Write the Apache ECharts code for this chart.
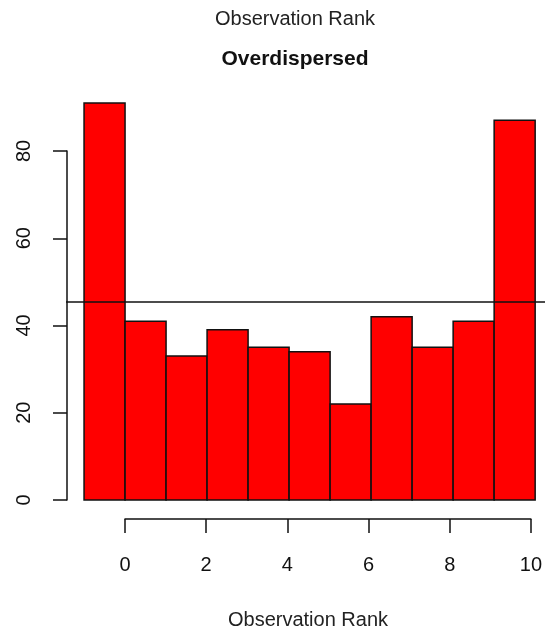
<!DOCTYPE html>
<html>
<head>
<meta charset="utf-8">
<script src="https://cdn.jsdelivr.net/npm/echarts@6/dist/echarts.min.js"></script>
<style>
  html, body { margin: 0; padding: 0; background: #fff; }
  #chart { width: 545px; height: 633px; }
</style>
</head>
<body>
<div id="chart"></div>
<script>
// Rank histogram: bin edges and counts per bin
const binEdges = [-1, 0, 1, 2, 3, 4, 5, 6, 7, 8, 9, 10];
const counts = [91, 41, 33, 39, 35, 34, 22, 42, 35, 41, 87];
// Expected count per bin (horizontal reference line)
const expectedCount = 45.45;
// Axis ticks
const xTicks = [0, 2, 4, 6, 8, 10];
const yTicks = [0, 20, 40, 60, 80];

const FONT = '"Liberation Sans", Arial, sans-serif';

const bins = counts.map((c, i) => [binEdges[i], binEdges[i + 1], c]);

const chart = echarts.init(document.getElementById('chart'), null, { renderer: 'canvas' });

chart.setOption({
  backgroundColor: '#ffffff',
  animation: false,
  grid: [
    // plotting region
    { left: 66, right: 0, top: 87, bottom: 117 },
    // detached x axis (spans 0..10 only)
    { left: 125, right: 10, top: 518, height: 1 },
    // detached y axis (spans 0..80 only)
    { left: 67, width: 1, top: 151, bottom: 133 }
  ],
  xAxis: [
    { gridIndex: 0, type: 'value', min: -1.44, max: 10.24, show: false },
    {
      gridIndex: 1, type: 'value', min: xTicks[0], max: xTicks[xTicks.length - 1], interval: 2,
      axisLine: { show: true, lineStyle: { color: '#111', width: 1.5 } },
      axisTick: { show: true, length: 14, lineStyle: { color: '#111', width: 1.5 } },
      axisLabel: { margin: 36, color: '#111', fontFamily: FONT, fontSize: 20 },
      splitLine: { show: false }
    },
    { gridIndex: 2, type: 'value', show: false }
  ],
  yAxis: [
    { gridIndex: 0, type: 'value', min: -3.64, max: 94.64, show: false },
    { gridIndex: 1, type: 'value', show: false },
    {
      gridIndex: 2, type: 'value', min: yTicks[0], max: yTicks[yTicks.length - 1], interval: 20,
      axisLine: { show: true, lineStyle: { color: '#111', width: 1.5 } },
      axisTick: { show: true, length: 14, lineStyle: { color: '#111', width: 1.5 } },
      axisLabel: { margin: 33, rotate: 90, color: '#111', fontFamily: FONT, fontSize: 20 },
      splitLine: { show: false }
    }
  ],
  graphic: [
    { type: 'text', x: 295, y: 19, style: { text: 'Observation Rank', font: '20px ' + FONT, fill: '#222', textAlign: 'center', textVerticalAlign: 'middle' } },
    { type: 'text', x: 295, y: 59, style: { text: 'Overdispersed', font: 'bold 21px ' + FONT, fill: '#111', textAlign: 'center', textVerticalAlign: 'middle' } },
    { type: 'text', x: 308, y: 620, style: { text: 'Observation Rank', font: '20px ' + FONT, fill: '#222', textAlign: 'center', textVerticalAlign: 'middle' } }
  ],
  series: [
    {
      type: 'custom',
      xAxisIndex: 0,
      yAxisIndex: 0,
      clip: false,
      data: bins,
      encode: { x: [0, 1], y: 2 },
      renderItem: function (params, api) {
        const topLeft = api.coord([api.value(0), api.value(2)]);
        const bottomRight = api.coord([api.value(1), 0]);
        return {
          type: 'rect',
          shape: {
            x: topLeft[0],
            y: topLeft[1],
            width: bottomRight[0] - topLeft[0],
            height: bottomRight[1] - topLeft[1]
          },
          style: { fill: '#ff0000', stroke: '#111', lineWidth: 1.5 }
        };
      },
      markLine: {
        silent: true,
        symbol: ['none', 'none'],
        label: { show: false },
        lineStyle: { color: '#111', width: 1.5, type: 'solid' },
        data: [{ yAxis: expectedCount }]
      }
    }
  ]
});
</script>
</body>
</html>
